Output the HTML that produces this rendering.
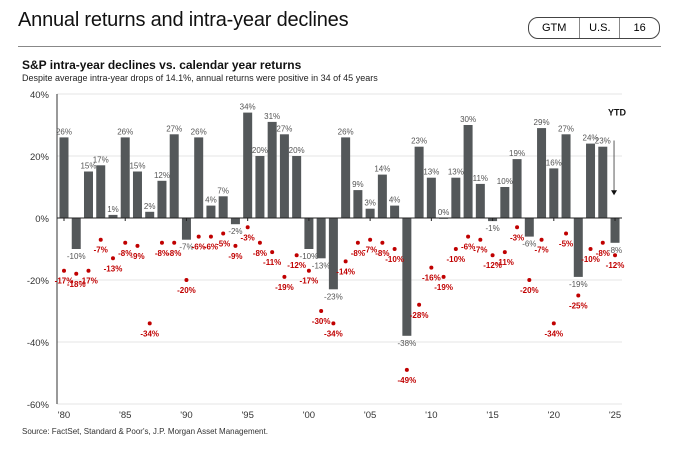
<!DOCTYPE html>
<html><head><meta charset="utf-8"><style>
body{margin:0;width:678px;height:458px;background:#fff;font-family:"Liberation Sans",sans-serif;overflow:hidden;position:relative}
.t{position:absolute}
</style></head><body>
<div class="t" style="left:18px;top:9px;font-size:20px;color:#111;letter-spacing:-0.2px">Annual returns and intra-year declines</div>
<div class="t" style="left:528px;top:17px;width:130px;height:20px;border:1px solid #444;border-radius:10px;font-size:11px;display:flex">
<span style="flex:1.3;text-align:center;line-height:20px;border-right:1px solid #888">GTM</span><span style="flex:1;text-align:center;line-height:20px;border-right:1px solid #888">U.S.</span><span style="flex:1;text-align:center;line-height:20px">16</span></div>
<div class="t" style="left:18px;top:46px;width:643px;height:1px;background:#888"></div>
<div class="t" style="left:22px;top:58px;font-size:12px;font-weight:bold;color:#111">S&amp;P intra-year declines vs. calendar year returns</div>
<div class="t" style="left:22px;top:73px;font-size:9px;color:#222">Despite average intra-year drops of 14.1%, annual returns were positive in 34 of 45 years</div>
<div class="t" style="left:22px;top:427px;font-size:8px;color:#333">Source: FactSet, Standard &amp; Poor's, J.P. Morgan Asset Management.</div>
<svg id="c" class="t" style="left:0;top:0" width="678" height="458"></svg>
<script>
const years=['80','','','','','85','','','','','90','','','','','95','','','','','00','','','','','05','','','','','10','','','','','15','','','','','20','','','','','25'];
const returns=[26,-10,15,17,1,26,15,2,12,27,-7,26,4,7,-2,34,20,31,27,20,-10,-13,-23,26,9,3,14,4,-38,23,13,0,13,30,11,-1,10,19,-6,29,16,27,-19,24,23,-8];
const declines=[-17,-18,-17,-7,-13,-8,-9,-34,-8,-8,-20,-6,-6,-5,-9,-3,-8,-11,-19,-12,-17,-30,-34,-14,-8,-7,-8,-10,-49,-28,-16,-19,-10,-6,-7,-12,-11,-3,-20,-7,-34,-5,-25,-10,-8,-12];
const yTicks=[40,20,0,-20,-40,-60];
const NS='http://www.w3.org/2000/svg';
const svg=document.getElementById('c');
const y=v=>218-v*3.1;
const x=i=>64+i*12.245;
function el(t,a,txt){const e=document.createElementNS(NS,t);for(const k in a)e.setAttribute(k,a[k]);if(txt!==undefined)e.textContent=txt;svg.appendChild(e);return e;}
yTicks.forEach(v=>{
 if(v!==0){const g=el('line',{x1:57,x2:622,y1:y(v),y2:y(v),stroke:'#e4e4e4','stroke-width':1});
 
 }
 const t=el('text',{x:49,y:y(v)+4,'text-anchor':'end','font-size':9.5,fill:'#333'},v+'%');
 
 
});
const ax=el('line',{x1:57,x2:57,y1:y(40),y2:y(-60),stroke:'#333','stroke-width':1});


returns.forEach((v,i)=>{
 const b=el('rect',{x:x(i)-4.5,y:Math.min(y(v),y(0)),width:9,height:Math.max(Math.abs(y(v)-y(0)),0.8),fill:'#54585a'});
 
 
 const ly=v>=0?y(v)-3:y(v)+10;
 const l=el('text',{x:x(i),y:ly,'text-anchor':'middle','font-size':8,fill:'#555'},v+'%');
 
 
});
const zx=el('line',{x1:57,x2:622,y1:y(0),y2:y(0),stroke:'#222','stroke-width':1});


declines.forEach((v,i)=>{
 const d=el('circle',{cx:x(i),cy:y(v),r:2,fill:'#c00000'});
 
 
 const l=el('text',{x:x(i),y:y(v)+13,'text-anchor':'middle','font-size':8,'font-weight':'bold',fill:'#c00000'},v+'%');
 
 
});
years.forEach((s,i)=>{if(!s)return;
 const t=el('text',{x:x(i),y:418,'text-anchor':'middle','font-size':9.5,fill:'#333'},"'"+s);
 
 
 const k=el('line',{x1:x(i),x2:x(i),y1:y(0),y2:y(0)+3,stroke:'#222'});
 
 
});
const yt=el('text',{x:x(45)+2,y:y(33),'text-anchor':'middle','font-size':9,'font-weight':'bold',fill:'#111'},'YTD');


const ar=el('line',{x1:x(45)-1,x2:x(45)-1,y1:y(25),y2:y(8),stroke:'#333','stroke-width':0.8});


const ah=el('path',{d:`M${x(45)-4},${y(8)-3} L${x(45)+2},${y(8)-3} L${x(45)-1},${y(8)+2}Z`,fill:'#111'});


</script>
</body></html>
